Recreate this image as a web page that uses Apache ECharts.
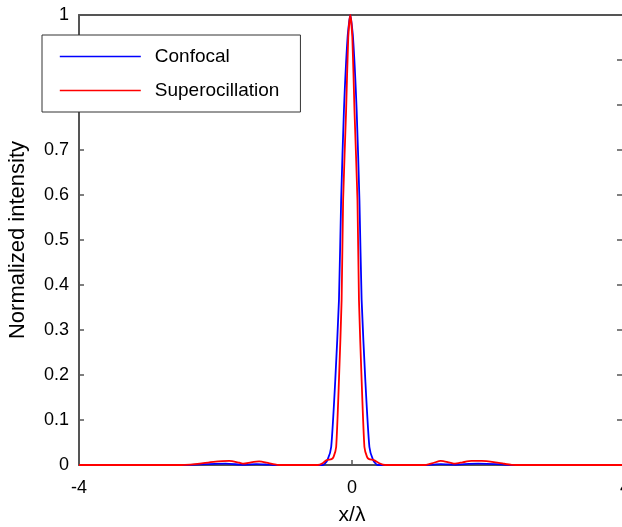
<!DOCTYPE html>
<html><head><meta charset="utf-8">
<script src="https://cdn.jsdelivr.net/npm/echarts@6/dist/echarts.min.js"></script>
<style>html,body{margin:0;padding:0;background:#fff}#c{width:622px;height:527px}</style>
</head><body><div id="c"></div><script>
// ---- data (x in units of wavelength, normalized intensity) ----
const confocalX = [-4, -2.6, -2.35, -2.1, -1.85, -1.65, -1.57, -1.4, -1.25, -1.15, -1.0, -0.6,
  -0.425, -0.36, -0.305, -0.245, -0.191, -0.159, -0.118, -0.065, -0.025, 0.015, 0.068, 0.109,
  0.141, 0.195, 0.255, 0.31, 0.375, 0.6, 1.1, 1.2, 1.3, 1.45, 1.52, 1.65, 1.85, 2.1, 2.3, 4];
const confocalY = [0, 0, 0.0005, 0.002, 0.003, 0.001, 0.0005, 0.002, 0.001, 0, 0, 0,
  0, 0.011, 0.04, 0.189, 0.367, 0.589, 0.789, 0.95, 1, 0.95, 0.789, 0.589,
  0.367, 0.189, 0.04, 0.011, 0, 0, 0, 0.001, 0.002, 0.001, 0.0005, 0.002, 0.003, 0.002, 0, 0];
const superX = [-4, -2.5, -2.37, -2.23, -2.03, -1.8, -1.65, -1.59, -1.48, -1.36, -1.22, -1.1, -1.0,
  -0.6, -0.5, -0.43, -0.37, -0.30, -0.27, -0.232, -0.191, -0.152, -0.13, -0.086, -0.055, -0.025,
  0.005, 0.036, 0.08, 0.102, 0.141, 0.182, 0.22, 0.25, 0.32, 0.40, 0.485, 0.6,
  1.0, 1.09, 1.2, 1.3, 1.42, 1.51, 1.62, 1.75, 1.9, 2.1, 2.22, 2.34, 2.5, 4];
const superY = [0, 0, 0.001, 0.003, 0.007, 0.009, 0.005, 0.003, 0.006, 0.008, 0.004, 0.0005, 0,
  0, 0, 0.004, 0.011, 0.013, 0.018, 0.04, 0.189, 0.367, 0.589, 0.789, 0.95, 1,
  0.95, 0.789, 0.589, 0.367, 0.189, 0.04, 0.018, 0.013, 0.011, 0.004, 0, 0,
  0, 0.0005, 0.005, 0.009, 0.006, 0.003, 0.006, 0.009, 0.009, 0.006, 0.003, 0.0005, 0, 0];
const seriesNames = ['Confocal', 'Superocillation'];
const yTickLabels = ['0', '0.1', '0.2', '0.3', '0.4', '0.5', '0.6', '0.7', '0.8', '0.9', '1'];
const xTitle = 'x/\u03bb';
const yTitle = 'Normalized intensity';

const pairs = (xs, ys) => xs.map((x, i) => [x, ys[i]]);
const FONT = 'Liberation Sans, Arial, sans-serif';
const AX = '#555';

const chart = echarts.init(document.getElementById('c'), null, {renderer: 'canvas'});
chart.setOption({
  animation: false,
  backgroundColor: '#fff',
  textStyle: {fontFamily: FONT},
  grid: {left: 79, right: -3, top: 15, bottom: 62, containLabel: false, outerBoundsMode: 'none'},
  legend: {
    show: true,
    left: 42, top: 35, orient: 'vertical',
    padding: [12, 21, 12, 17],
    itemWidth: 81, itemHeight: 14, itemGap: 15,
    backgroundColor: '#fff', borderColor: '#333', borderWidth: 1,
    itemStyle: {opacity: 0, borderWidth: 0},
    lineStyle: {width: 1.6},
    textStyle: {fontFamily: FONT, fontSize: 19, color: '#000', padding: [0, 0, 0, 9]},
    data: seriesNames,
    z: 10
  },
  xAxis: [{
    type: 'value', min: -4, max: 4, interval: 4, position: 'bottom',
    axisLine: {show: true, onZero: false, lineStyle: {color: AX, width: 2}},
    axisTick: {show: true, inside: true, length: 5, lineStyle: {color: AX, width: 1.5}},
    axisLabel: {color: '#000', fontSize: 18, margin: 14, fontFamily: FONT},
    splitLine: {show: false},
    name: xTitle, nameLocation: 'middle', nameGap: 40,
    nameTextStyle: {fontSize: 21, color: '#000', fontFamily: FONT}
  }, {
    type: 'value', min: -4, max: 4, interval: 4, position: 'top',
    axisLine: {show: true, onZero: false, lineStyle: {color: AX, width: 2}},
    axisTick: {show: false}, axisLabel: {show: false}, splitLine: {show: false}
  }],
  yAxis: [{
    type: 'value', min: 0, max: 1, interval: 0.1, position: 'left',
    axisLine: {show: true, onZero: false, lineStyle: {color: AX, width: 2}},
    axisTick: {show: true, inside: true, length: 5, lineStyle: {color: AX, width: 1.5}},
    axisLabel: {color: '#000', fontSize: 18, margin: 10, fontFamily: FONT,
      formatter: (v) => yTickLabels[Math.round(v * 10)]},
    splitLine: {show: false},
    name: yTitle, nameLocation: 'middle', nameGap: 50,
    nameTextStyle: {fontSize: 22, color: '#000', fontFamily: FONT}
  }, {
    type: 'value', min: 0, max: 1, interval: 0.1, position: 'right',
    axisLine: {show: true, onZero: false, lineStyle: {color: AX, width: 2}},
    axisTick: {show: true, inside: true, length: 8, lineStyle: {color: AX, width: 1.5}},
    axisLabel: {show: false}, splitLine: {show: false}
  }],
  series: [{
    name: seriesNames[0], type: 'line', data: pairs(confocalX, confocalY),
    symbol: 'none', smooth: 0.2,
    itemStyle: {color: '#0000ff'}, lineStyle: {color: '#0000ff', width: 1.8}, z: 3
  }, {
    name: seriesNames[1], type: 'line', data: pairs(superX, superY),
    symbol: 'none', smooth: 0.2,
    itemStyle: {color: '#ff0000'}, lineStyle: {color: '#ff0000', width: 1.8}, z: 4
  }]
});
</script></body></html>
